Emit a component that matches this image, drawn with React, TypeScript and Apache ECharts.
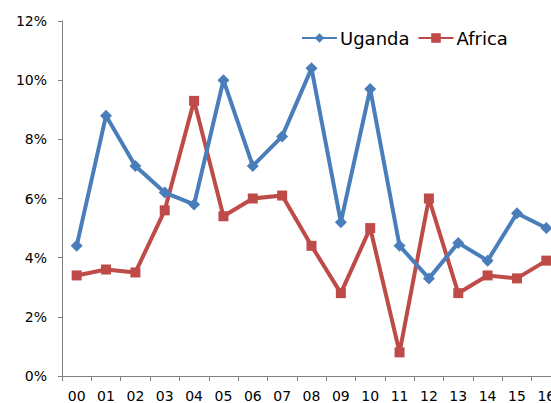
import React, { useEffect, useRef } from "react";
import * as echarts from "echarts";

const categories = ["00", "01", "02", "03", "04", "05", "06", "07", "08", "09", "10", "11", "12", "13", "14", "15", "16"];
const uganda = [4.4, 8.8, 7.1, 6.2, 5.8, 10.0, 7.1, 8.1, 10.4, 5.2, 9.7, 4.4, 3.3, 4.5, 3.9, 5.5, 5.0];
const africa = [3.4, 3.6, 3.5, 5.6, 9.3, 5.4, 6.0, 6.1, 4.4, 2.8, 5.0, 0.8, 6.0, 2.8, 3.4, 3.3, 3.9];

export default function App() {
  const ref = useRef<HTMLDivElement>(null);
  useEffect(() => {
    if (!ref.current) return;
    const chart = echarts.init(ref.current, undefined, { renderer: "svg" });
    const font = "DejaVu Sans";
    chart.setOption({
      animation: false,
      backgroundColor: "#ffffff",
      grid: { left: 62, top: 21, bottom: 21, right: 0, containLabel: false },
      legend: {
        left: 296,
        top: 24,
        itemWidth: 35,
        itemHeight: 12,
        itemGap: 8,
        textStyle: { fontFamily: font, fontSize: 18, color: "#000", padding: [0, 0, 0, -2] },
        data: ["Uganda", "Africa"],
      },
      xAxis: {
        type: "category",
        data: categories,
        boundaryGap: true,
        axisLine: { lineStyle: { color: "#808080", width: 1 } },
        axisTick: { show: true, interval: 0, length: 5, lineStyle: { color: "#808080" } },
        axisLabel: { interval: 0, margin: 13, fontFamily: font, fontSize: 14, color: "#000" },
      },
      yAxis: {
        type: "value",
        min: 0,
        max: 12,
        interval: 2,
        splitLine: { show: false },
        axisLine: { show: true, lineStyle: { color: "#808080", width: 1 } },
        axisTick: { show: true, length: 4, lineStyle: { color: "#808080" } },
        axisLabel: { formatter: "{value}%", margin: 15, fontFamily: font, fontSize: 14, color: "#000" },
      },
      series: [
        {
          name: "Uganda",
          type: "line",
          data: uganda,
          symbol: "diamond",
          symbolSize: 12,
          lineStyle: { color: "#4A7EBB", width: 4 },
          itemStyle: { color: "#4A7EBB" },
          z: 3,
        },
        {
          name: "Africa",
          type: "line",
          data: africa,
          symbol: "rect",
          symbolSize: 10,
          lineStyle: { color: "#BE4B48", width: 4 },
          itemStyle: { color: "#BE4B48" },
          z: 2,
        },
      ],
    });
    return () => chart.dispose();
  }, []);
  return (
    <div style={{ position: "absolute", left: 0, top: 0, width: 551, height: 403, overflow: "hidden" }}>
      <div ref={ref} style={{ width: 561, height: 403 }} />
    </div>
  );
}
